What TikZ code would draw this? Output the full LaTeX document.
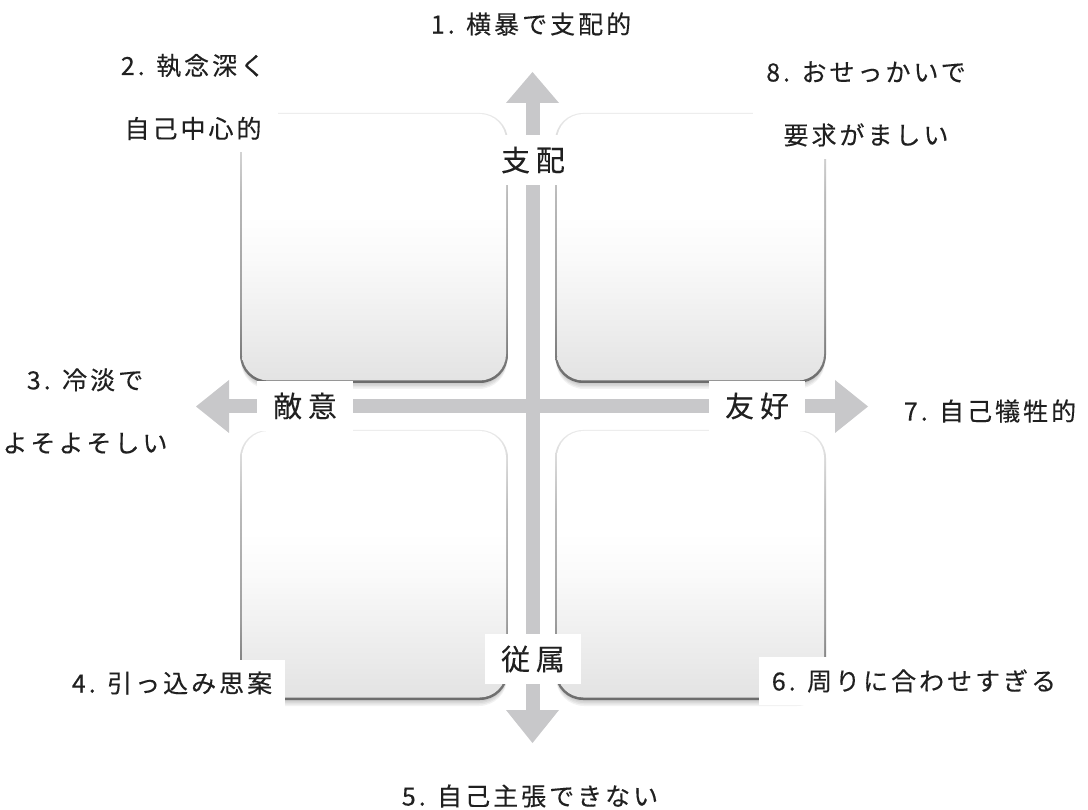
\documentclass[tikz,border=0pt]{standalone}
\usepackage{fontspec}
\newfontfamily\jpout[LetterSpace=12,FakeBold=0.25]{Noto Sans CJK JP}
\newfontfamily\jpaxis[LetterSpace=20,FakeBold=0.25]{Noto Sans CJK JP}
\pgfdeclareverticalshading{boxface}{100bp}{color(0bp)=(black!11); color(25bp)=(black!11); color(35bp)=(black!7); color(48bp)=(black!2); color(56bp)=(white); color(100bp)=(white)}
\pgfdeclareverticalshading{boxedge}{100bp}{color(0bp)=(black!58); color(25bp)=(black!58); color(40bp)=(black!38); color(60bp)=(black!27); color(75bp)=(black!8); color(100bp)=(black!8)}
\definecolor{axisgray}{RGB}{200,200,202}
\definecolor{txt}{RGB}{32,32,32}
\begin{document}
\begin{tikzpicture}[x=1pt,y=-1pt,
  outlabel/.style={font=\jpout\fontsize{25}{63}\selectfont, text=txt, fill=white, inner xsep=13pt, inner ysep=12pt, align=center},
  axislabel/.style={font=\jpaxis\fontsize{29}{35}\selectfont, text=txt, fill=white, inner xsep=16pt, inner ysep=12pt},
  axisline/.style={draw=axisgray, line width=14pt},
  axishead/.style={fill=axisgray}]
\fill[white] (0,0) rectangle (1088,810);
\useasboundingbox (0,0) rectangle (1088,810);
% quadrant boxes
\foreach \xa/\ya/\xb/\yb in {240/113/508/383, 555/113/826/383, 240/430/508/700, 555/430/826/700}{
  \foreach \s in {1.5,3,4.5,6}
    \fill[black,opacity=0.05,rounded corners=28pt] (\xa+1,\ya+\s) rectangle (\xb-1,\yb+\s);
  \shade[shading=boxedge, rounded corners=28pt] (\xa,\ya) rectangle (\xb,\yb);
  \shade[shading=boxface, rounded corners=26.5pt] (\xa+2,\ya+1) rectangle (\xb-2,\yb-2.5);
}
% axes
\coordinate (ntip) at (532.5,72);
\coordinate (stip) at (532.5,743);
\coordinate (wtip) at (196,406.5);
\coordinate (etip) at (868,406.5);
\draw[axisline, shorten <=20pt, shorten >=20pt] (stip) -- (ntip);
\draw[axisline, shorten <=20pt, shorten >=20pt] (wtip) -- (etip);
\fill[axishead] (ntip) -- ++(26.5,31) -- ++(-53,0) -- cycle;
\fill[axishead] (stip) -- ++(26.5,-33) -- ++(-53,0) -- cycle;
\fill[axishead] (wtip) -- ++(33,-26.5) -- ++(0,53) -- cycle;
\fill[axishead] (etip) -- ++(-33,-26.5) -- ++(0,53) -- cycle;
% axis labels
\node[axislabel] (dom) at (533,160) {支配};
\node[axislabel] (sub) at (533,659) {従属};
\node[axislabel] (hos) at (305,406) {敵意};
\node[axislabel] (fri) at (757,406) {友好};
% outer labels
\node[outlabel] (l1) at (531,24) {1. 横暴で支配的};
\node[outlabel] (l2) at (193,97) {2. 執念深く\\自己中心的};
\node[outlabel] (l3) at (85,411) {3. 冷淡で\\よそよそしい};
\node[outlabel] (l4) at (172,683) {4. 引っ込み思案};
\node[outlabel] (l5) at (530,796) {5. 自己主張できない};
\node[outlabel] (l6) at (914,681) {6. 周りに合わせすぎる};
\node[outlabel] (l7) at (990,411) {7. 自己犠牲的};
\node[outlabel] (l8) at (866,104) {8. おせっかいで\\要求がましい};
\end{tikzpicture}
\end{document}
